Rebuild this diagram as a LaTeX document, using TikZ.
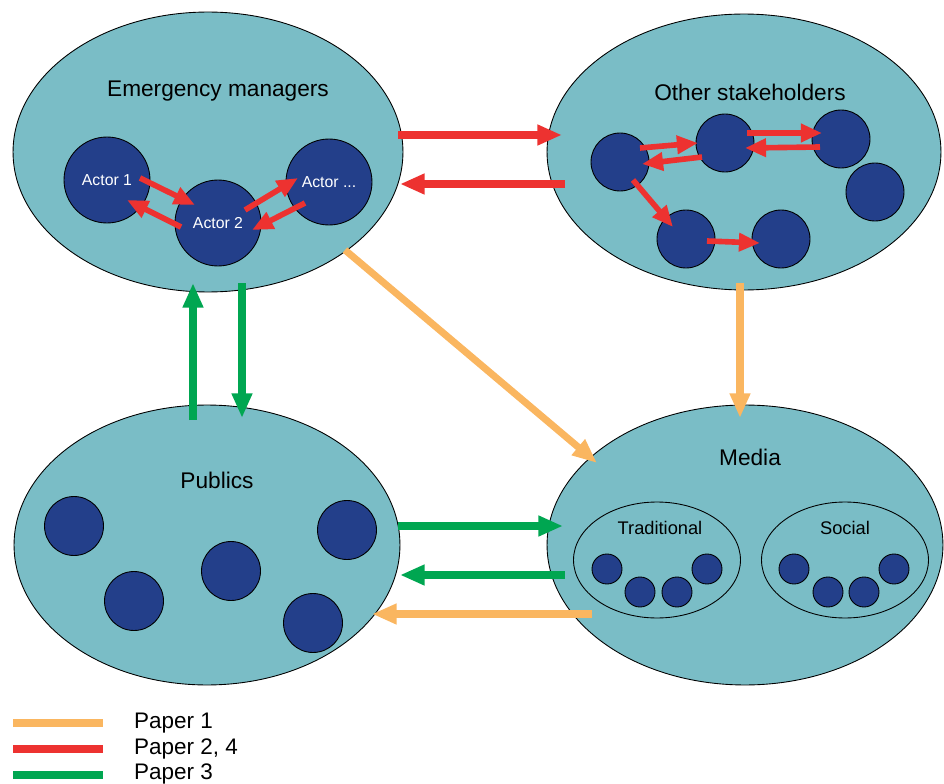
\documentclass[tikz,border=0pt]{standalone}
\usepackage{fontspec}
\setmainfont{Liberation Sans}
\usetikzlibrary{shapes.geometric,arrows.meta,calc}
\definecolor{groupfill}{RGB}{122,189,198}
\definecolor{actorblue}{RGB}{35,63,138}
\definecolor{paperred}{RGB}{237,50,48}
\definecolor{paperorange}{RGB}{250,182,96}
\definecolor{papergreen}{RGB}{0,166,81}
\tikzset{
  group/.style={ellipse, draw=black, line width=0.5pt, fill=groupfill, inner sep=0pt},
  sub/.style={ellipse, draw=black, line width=0.5pt, inner sep=0pt, minimum width=3.34cm, minimum height=2.32cm},
  actor/.style={circle, draw=black, line width=0.5pt, fill=actorblue, inner sep=0pt, minimum size=1.72cm, text=white, font=\fontsize{9}{10}\selectfont},
  member/.style={circle, draw=black, line width=0.5pt, fill=actorblue, inner sep=0pt, minimum size=#1},
  member/.default=1.16cm,
  title/.style={font=\fontsize{12.9}{15}\selectfont},
  sublabel/.style={font=\fontsize{10.4}{12}\selectfont},
  legend/.style={anchor=west, font=\fontsize{12.8}{15}\selectfont},
  flow/.style={line width=4pt, -{Triangle[length=14pt,width=11pt]}},
  link/.style={line width=3.2pt, paperred, -{Triangle[length=12pt,width=10pt]}}
}
\begin{document}
\begin{tikzpicture}[x=0.02cm, y=-0.02cm]
\useasboundingbox (0,0) rectangle (944,784);

% groups
\node[group, minimum width=7.8cm, minimum height=5.6cm] (em) at (208,152) {};
\node[group, minimum width=7.88cm, minimum height=5.52cm] (os) at (744,152) {};
\node[group, minimum width=7.72cm, minimum height=5.6cm] (pub) at (207,545) {};
\node[group, minimum width=7.92cm, minimum height=5.6cm] (med) at (745,545) {};

\node[title] (emtitle) at (218,91) {Emergency managers};
\node[title] (ostitle) at (750,92) {Other stakeholders};
\node[title] (pubtitle) at (217,480) {Publics};
\node[title] (medtitle) at (750,457) {Media};

% media types
\node[sub] (trad) at (657,560) {};
\node[sub] (soc) at (845,560) {};
\node[sublabel] (tradtitle) at (660,528) {Traditional};
\node[sublabel] (soctitle) at (845,528) {Social};

% actors
\node[actor] (a1) at (107,180) {Actor 1};
\node[actor] (a2) at (218,223) {Actor 2};
\node[actor] (a3) at (329,182) {Actor ...};

\foreach \p [count=\i] in {(620,162),(725,143),(841,139),(875,192),(686,239),(781,239)}
  \node[member] (o\i) at \p {};
\foreach \p [count=\i] in {(74,526),(134,601),(231,571),(347,530),(313,623)}
  \node[member=1.18cm] (p\i) at \p {};
\foreach \p [count=\i] in {(607,569),(640,592),(677,592),(707,569)}
  \node[member=0.6cm] (t\i) at \p {};
\foreach \p [count=\i] in {(794,569),(828,592),(864,592),(894,569)}
  \node[member=0.6cm] (s\i) at \p {};

% links inside groups
\draw[link] ($(a1)+(33,-2)$) -- ($(a2)+(-23,-18)$);
\draw[link] ($(a2)+(-37,4)$) -- ($(a1)+(20,20)$);
\draw[link] ($(a2)+(27,-13)$) -- ($(a3)+(-31,-4)$);
\draw[link] ($(a3)+(-24,21)$) -- ($(a2)+(34,7)$);

\draw[link] ($(o1)+(20,-14)$) -- ($(o2)+(-27,0)$);
\draw[link] ($(o2)+(-23,14)$) -- ($(o1)+(22,2)$);
\draw[link] ($(o2)+(22,-10)$) -- ($(o3)+(-19,-6)$);
\draw[link] ($(o3)+(-21,8)$) -- ($(o2)+(20,5)$);
\draw[link] ($(o1)+(13,18)$) -- ($(o5)+(-13,-12)$);
\draw[link] ($(o5)+(21,2)$) -- ($(o6)+(-21,4)$);

% flows between groups
\draw[flow, paperred] ($(em)+(190,-17)$) -- ($(os)+(-182,-17)$);
\draw[flow, paperred] ($(os)+(-179,32)$) -- ($(em)+(192,32)$);
\draw[flow, paperorange] ($(os)+(-4,131)$) -- ($(med)+(-5,-127)$);
\draw[flow, paperorange] ($(em)+(137,98)$) -- ($(med)+(-148,-82)$);
\draw[flow, papergreen] ($(pub)+(-14,-125)$) -- ($(em)+(-15,131)$);
\draw[flow, papergreen] ($(em)+(34,131)$) -- ($(pub)+(35,-127)$);
\draw[flow, papergreen] ($(pub)+(191,-19)$) -- ($(med)+(-182,-19)$);
\draw[flow, papergreen] ($(med)+(-180,30)$) -- ($(pub)+(193,30)$);
\draw[flow, paperorange] ($(med)+(-153,69)$) -- ($(pub)+(165,69)$);

% legend
\draw[line width=4pt, paperorange] (13,723) -- (103,723);
\draw[line width=4pt, paperred] (13,749) -- (103,749);
\draw[line width=4pt, papergreen] (13,775) -- (103,775);
\node[legend] (l1) at (128,723) {Paper 1};
\node[legend] (l2) at (128,749) {Paper 2, 4};
\node[legend] (l3) at (128,774) {Paper 3};
\end{tikzpicture}
\end{document}
